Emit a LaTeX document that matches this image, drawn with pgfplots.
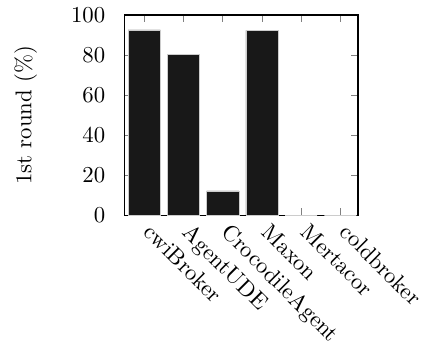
\documentclass[border=0pt]{standalone}
\usepackage{pgfplots}
\pgfplotsset{compat=1.18}
\definecolor{barc}{HTML}{181818}
\begin{document}
\begin{tikzpicture}
\begin{axis}[
  scale only axis,
  width=102.5pt, height=88pt,
  ybar, bar width=0.82,
  xmin=-0.5, xmax=5.45,
  ymin=0, ymax=100,
  ytick={0,20,40,60,80,100},
  xtick={0,1,2,3,4,5},
  xticklabels={cwiBroker,AgentUDE,CrocodileAgent,Maxon,Mertacor,coldbroker},
  xticklabel style={rotate=-45, anchor=north west, inner sep=1pt, yshift=2pt, xshift=4pt},
  yticklabel style={xshift=-5pt},
  tick align=inside,
  major tick length=3pt,
  ylabel={1st round (\%)},
  ylabel style={yshift=8pt},
  axis line style={line width=0.5pt},
]
\addplot[fill=barc, draw=gray!40, line width=0.2pt] coordinates {(0,92.5) (1,80.5) (2,12.2) (3,92.3) (4,0) (5,0)};
\end{axis}
\path ([xshift=-3pt]current bounding box.west) ([xshift=1pt]current bounding box.east);
\end{tikzpicture}
\end{document}
